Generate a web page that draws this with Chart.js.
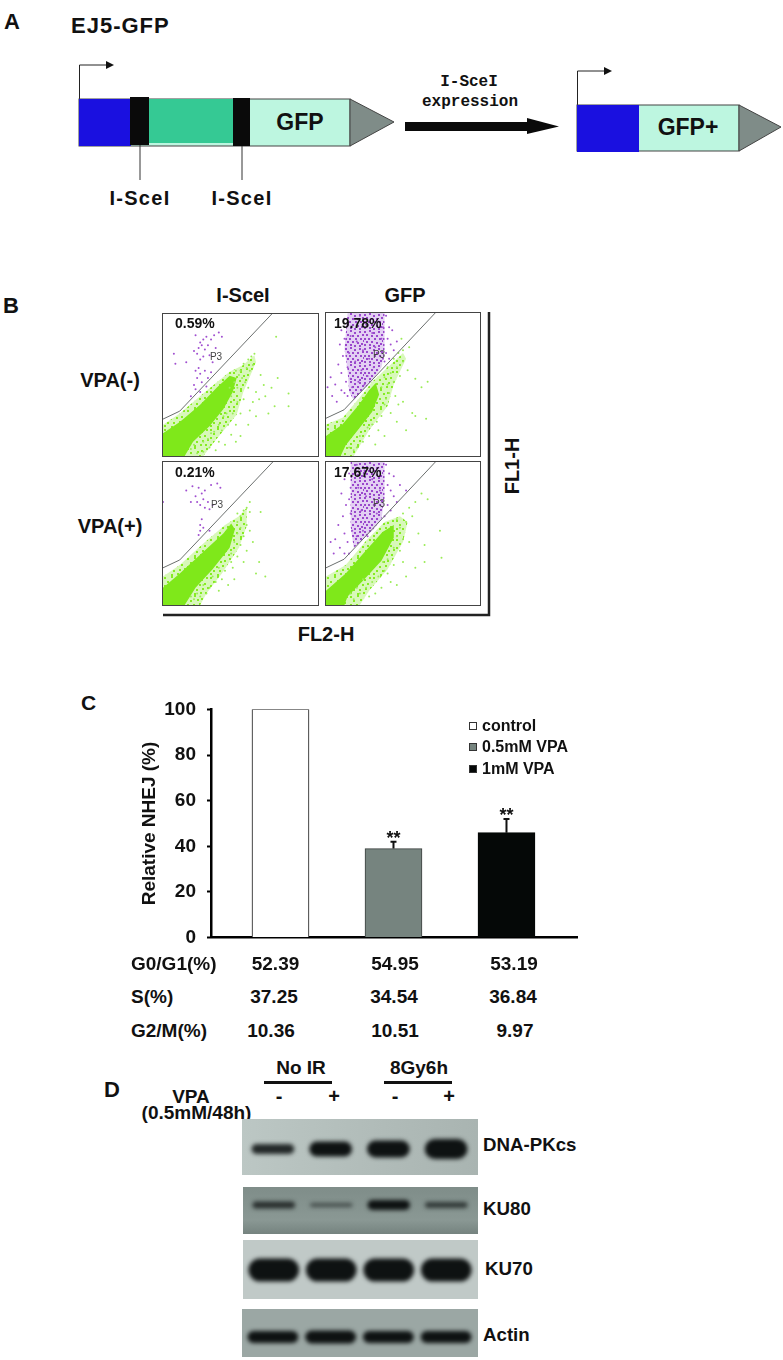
<!DOCTYPE html>
<html>
<head>
<meta charset="utf-8">
<script src="https://cdn.jsdelivr.net/npm/chart.js@4"></script>
<style>
  body { margin: 0; background: #fff; font-family: "Liberation Sans", Arial, sans-serif; color: #111; }
  #fig { position: relative; width: 783px; height: 1360px; overflow: hidden; }
  .t { position: absolute; font-weight: bold; white-space: nowrap; transform: translate(-50%, -50%); }
  .l { position: absolute; font-weight: bold; white-space: nowrap; transform: translateY(-50%); }
  .plot { position: absolute; border: 1px solid #444; box-sizing: border-box; background: #fff; }
  .plot canvas, .blot canvas, #barChart { display: block; }
  .blot { position: absolute; overflow: hidden; }
  .blot canvas { filter: blur(2px); }
  #barChart { position: absolute; left: 120px; top: 687px; }
  svg { position: absolute; left: 0; top: 0; }
</style>
</head>
<body>
<div id="fig">
  <svg width="783" height="650">
    <!-- panel A construct -->
    <path d="M79.5 99V65H108M577.5 105V71H606" fill="none" stroke="#222" stroke-width="1"/>
    <path d="M106 61L114 65L106 69ZM604 67L612 71L604 75Z" fill="#111"/>
    <rect x="79" y="99" width="271" height="47" fill="#bdf6e0" stroke="#444"/>
    <rect x="79" y="99" width="52" height="47" fill="#1a10e0"/>
    <rect x="149" y="99" width="84" height="44" fill="#35c994"/>
    <rect x="130" y="97" width="19" height="48" fill="#0a0a0a"/>
    <rect x="233" y="98" width="17" height="48" fill="#0a0a0a"/>
    <path d="M350 99L394 122L350 146Z" fill="#7f8c88" stroke="#444"/>
    <path d="M140 145V180M242 146V180" stroke="#333"/>
    <rect x="405" y="122" width="122" height="9" fill="#0a0a0a"/>
    <path d="M527 118L559 126.5L527 134Z" fill="#0a0a0a"/>
    <rect x="577" y="105" width="162" height="46" fill="#bdf6e0" stroke="#444"/>
    <rect x="577" y="105" width="62" height="47" fill="#1a10e0"/>
    <path d="M739 105L781 127L739 151Z" fill="#7f8c88" stroke="#444"/>
    <!-- panel B frame -->
    <path d="M489 312V615H163" fill="none" stroke="#222" stroke-width="2.5"/>
  </svg>
  <canvas id="barChart" width="463" height="273"></canvas>
</div>

<script>
// panel C
const categories = ['control', '0.5mM VPA', '1mM VPA'];
const relativeNhej = [100, 39, 46];
const nhejErrorTop = [null, 42, 52];
const nhejStars = ['', '**', '**'];
const yTicks = [0, 20, 40, 60, 80, 100];
const g0g1 = ['52.39', '54.95', '53.19'];
const sPhase = ['37.25', '34.54', '36.84'];
const g2m = ['10.36', '10.51', '9.97'];

// panel B, percent of the plot box
const gateTL = [[0,26],[10.8,31.6],[70.2,100]];
const gateTR = [[0,26.4],[11.7,32.3],[70.9,100]];
const gateBL = [[0,26],[10.8,31.5],[70.8,100]];
const gateBR = [[0,26],[11.7,32],[71,100]];
const coreTL = [[0,0],[0,16],[10.8,24],[23.8,36],[34.6,48],[43,56.6],[47.5,55],[45,45],[38.9,33],[30,21],[19.4,10],[14,0]];
const coreTR = [[0,0],[0,14],[10.6,22],[21.5,36],[28,46],[32.3,51],[34.5,43],[30,31],[21.5,19.3],[12.8,7.5],[9.5,0]];
const coreBL = [[0,0],[0,12],[10.8,22],[25.9,37],[38.9,50],[44,57],[46.4,53],[43,40],[32,25],[21,12],[14,0]];
const coreBR = [[0,0],[0,10],[12.8,22],[25.8,38],[36.7,51],[44,56],[44,47],[36,31],[24,17],[14,6],[12,0]];
const fringeTL = [[0,0],[0,22],[10.8,30],[25.9,44],[43,59.4],[51.8,64],[59,71],[60,66],[51.8,45],[47.5,29],[34.6,12],[26,0]];
const fringeTR = [[0,0],[0,22],[11,27],[22,41],[30,52],[38,60],[50,72],[52,68],[44,50],[40,35],[28,18],[18,0]];
const fringeBL = [[0,0],[0,20],[10.8,28],[26,43],[40,56],[49,62],[54,68],[54,55],[49,40],[38,22],[28,8],[24,0]];
const fringeBR = [[0,0],[0,20],[12.8,28],[26,45],[38,58],[48,62],[53,58],[50,44],[40,25],[28,10],[22,0]];
const denseTR = [[14,100],[38,100],[38,72],[36,62],[30,53],[24,46],[18,39],[15,45],[14,60],[12,75]];
const denseBR = [[16,100],[38,100],[38,75],[36,60],[30,52],[24,46],[18,40],[16,55]];
const greenTL = [[50,60],[52,65],[55,68],[57,70],[59,72],[54,62],[49,57],[47,60],[51,55],[56,60],[58,64],[53,52],[48,48],[55,48],[60,45],[62,40],[65,50],[66,42],[70,48],[72,35],[68,30],[58,38],[52,40],[56,32],[60,28],[50,30],[48,38],[45,30],[42,22],[47,22],[38,18],[44,15],[36,10],[40,8],[30,6],[34,4],[26,3],[22,2],[47,10],[74,55],[81,44],[81,35],[73,84],[63,57],[55,22],[50,14],[29,12],[33,17],[39,28],[44,42],[46,52],[43,48],[18,5],[20,8],[26,10],[31,16],[36,22],[41,30]];
const greenTR = [[40,62],[44,68],[47,72],[50,74],[54,76],[42,58],[46,62],[50,66],[38,55],[36,48],[40,50],[44,52],[48,56],[53,60],[58,54],[62,48],[66,52],[45,42],[50,38],[38,36],[42,30],[36,28],[30,22],[34,18],[28,14],[24,10],[20,6],[32,8],[38,14],[46,24],[52,18],[56,30],[47,36],[41,44],[58,28],[65,26],[49,82],[18,4],[15,6],[22,14],[27,20],[33,24],[39,40]];
const greenBL = [[48,58],[50,62],[52,66],[54,68],[56,65],[50,54],[54,56],[48,50],[52,48],[46,44],[50,42],[56,52],[44,36],[48,34],[54,38],[58,44],[62,30],[45,26],[40,24],[38,18],[34,16],[30,12],[36,10],[28,8],[24,6],[20,4],[42,14],[60,22],[63,65],[56,72],[48,64],[44,30],[36,26],[32,20],[26,14],[22,8],[18,6],[52,30],[46,18],[66,20]];
const greenBR = [[46,60],[50,64],[54,68],[58,72],[62,78],[66,74],[48,54],[52,58],[56,62],[46,48],[50,46],[44,40],[48,38],[54,44],[60,50],[64,42],[74,52],[40,32],[44,28],[50,30],[38,24],[34,20],[30,16],[26,12],[36,12],[42,16],[22,8],[18,4],[28,6],[32,8],[46,14],[52,20],[58,26],[64,30],[75,33],[40,22],[37,30],[24,18],[16,8],[20,12]];
const purpleTL = [[21,85],[24,80],[26,82],[23,76],[25,78],[27,75],[29,78],[31,82],[33,85],[36,87],[38,84],[28,84],[20,74],[22,72],[26,70],[24,68],[7,72],[8,65],[15,66],[30,71],[21,60],[24,58],[27,60],[29,55],[31,59],[22,55],[25,52],[28,49],[21,47],[24,45],[18,42],[20,50],[32,66],[34,76],[23,62]];
const purpleTR = [[12,96],[10,88],[9,78],[12,82],[11,70],[8,64],[10,58],[13,52],[6,50],[4,42],[7,38],[3,55],[1,48],[12,44],[14,42],[10,46],[39,98],[41,90],[40,82],[42,78],[44,74],[39,72],[38,66],[41,68],[46,80],[43,88],[14,92],[16,84],[15,72],[14,62],[16,54],[17,48],[37,90],[36,82],[37,68],[22,98],[26,92],[30,86],[34,94],[20,80],[24,74],[28,68],[32,76],[19,66],[23,60],[27,56],[31,62],[21,52],[25,50],[35,70]];
const purpleBL = [[23,82],[25,78],[21,76],[27,80],[26,74],[29,72],[24,70],[22,72],[31,84],[35,85],[37,82],[19,83],[15,80],[18,72],[30,67],[27,68],[25,60],[24,56],[26,54],[24,52],[23,49],[0,72],[30,52],[32,70]];
const purpleBR = [[14,96],[12,88],[10,78],[13,70],[11,62],[8,56],[12,50],[6,46],[3,44],[9,40],[14,44],[15,36],[12,36],[5,36],[39,98],[41,92],[40,84],[42,80],[44,76],[46,72],[40,70],[42,66],[38,62],[48,84],[44,90],[52,80],[15,92],[16,82],[15,74],[16,64],[17,52],[20,98],[25,94],[30,88],[34,96],[21,82],[26,76],[31,70],[35,80],[19,62],[23,66],[28,58],[33,64],[20,48],[24,52],[27,48]];

const plotTexts = ['0.59%', '19.78%', '0.21%', '17.67%'];

// panel D, band thickness
const lanes = ['No IR -', 'No IR +', '8Gy6h -', '8Gy6h +'];
const dnaPkcs = [10, 15, 17, 20];
const ku80 = [7, 4, 10, 6];
const ku70 = [23, 23, 23, 23];
const actin = [12, 13, 12, 12];

const fig = document.getElementById('fig');

function addText(cls, x, y, size, str, extra) {
  const d = document.createElement('div');
  d.className = cls;
  d.textContent = str;
  d.style.left = x + 'px';
  d.style.top = y + 'px';
  d.style.fontSize = size + 'px';
  if (extra) Object.assign(d.style, extra);
  fig.appendChild(d);
  return d;
}
const pts = a => a.map(([x, y]) => ({ x, y }));

// stipple fills so the clouds do not look like flat shapes
function stipple(w, h, wash, dot, dots) {
  const c = document.createElement('canvas');
  c.width = w;
  c.height = h;
  const g = c.getContext('2d');
  g.fillStyle = wash;
  g.fillRect(0, 0, w, h);
  g.fillStyle = dot;
  dots.forEach(([x, y]) => g.fillRect(x, y, 2, 2));
  return g.createPattern(c, 'repeat');
}
const greenDots = stipple(23, 19, 'rgba(127,232,26,.3)', '#86ec22', [[1,1],[8,0],[15,3],[20,1],[4,5],[11,4],[18,7],[1,9],[7,9],[13,8],[21,11],[4,13],[10,13],[16,12],[1,16],[8,17],[14,16],[19,16]]);
const purpleDots = stipple(19, 17, 'rgba(175,120,220,.35)', '#9a48cc', [[0,1],[5,0],[9,2],[14,1],[17,4],[2,4],[7,5],[12,5],[0,8],[4,8],[10,8],[15,8],[18,10],[2,11],[7,11],[12,12],[16,13],[0,14],[5,14],[9,15],[14,15]]);

// ---- panel A + B labels
addText('l', 4, 22, 22, 'A');
addText('l', 71, 26, 22, 'EJ5-GFP', { letterSpacing: '1px' });
addText('t', 140, 198, 20, 'I-SceI', { letterSpacing: '1.3px' });
addText('t', 242, 198, 20, 'I-SceI', { letterSpacing: '1.3px' });
addText('t', 300, 122, 23, 'GFP');
addText('t', 688, 127, 23, 'GFP+');
addText('t', 469, 82, 16, 'I-SceI', { fontFamily: '"Liberation Mono", monospace' });
addText('t', 470, 102, 16, 'expression', { fontFamily: '"Liberation Mono", monospace' });

addText('l', 3, 306, 22, 'B');
addText('t', 243, 295, 20, 'I-SceI');
addText('t', 405, 295, 20, 'GFP');
addText('t', 110, 380, 20, 'VPA(-)');
addText('t', 110, 526, 20, 'VPA(+)');
addText('t', 326, 634, 20, 'FL2-H');
addText('t', 512, 466, 20, 'FL1-H', { transform: 'translate(-50%,-50%) rotate(-90deg)' });

// ---- panel B scatter plots
const plots = [
  { x: 162, y: 313, w: 157, h: 144, gate: gateTL, core: coreTL, fringe: fringeTL, green: greenTL, purple: purpleTL },
  { x: 325, y: 312, w: 156, h: 145, gate: gateTR, core: coreTR, fringe: fringeTR, green: greenTR, purple: purpleTR, dense: denseTR },
  { x: 162, y: 461, w: 157, h: 145, gate: gateBL, core: coreBL, fringe: fringeBL, green: greenBL, purple: purpleBL },
  { x: 325, y: 461, w: 156, h: 145, gate: gateBR, core: coreBR, fringe: fringeBR, green: greenBR, purple: purpleBR, dense: denseBR }
];
const p3Pos = [[216, 356], [379, 354], [217, 504], [379, 503]];
const pctPos = [[175, 323], [334, 323], [175, 472], [334, 472]];

plots.forEach((p, i) => {
  const box = document.createElement('div');
  box.className = 'plot';
  Object.assign(box.style, { left: p.x + 'px', top: p.y + 'px', width: p.w + 'px', height: p.h + 'px' });
  const c = document.createElement('canvas');
  c.width = p.w - 2;
  c.height = p.h - 2;
  box.appendChild(c);
  fig.appendChild(box);

  const shape = (data, fillStyle) => ({ data: pts(data), showLine: true, fill: 'shape', backgroundColor: fillStyle, borderWidth: 0, pointRadius: 0, tension: 0 });
  const datasets = [
    { data: pts(p.gate), showLine: true, borderColor: '#6b6f6e', borderWidth: 1, pointRadius: 0, tension: 0 },
    { data: pts(p.purple), backgroundColor: '#a04fd0', pointRadius: 1, borderWidth: 0 },
    { data: pts(p.green), backgroundColor: '#9aec55', pointRadius: 1, borderWidth: 0 },
    shape(p.core, '#7fe81a'),
    shape(p.fringe, greenDots)
  ];
  if (p.dense) datasets.push(shape(p.dense, purpleDots));
  new Chart(c, {
    type: 'scatter',
    data: { datasets },
    options: {
      responsive: false,
      animation: false,
      layout: { autoPadding: false },
      plugins: { legend: { display: false }, tooltip: { enabled: false } },
      scales: {
        x: { display: false, min: 0, max: 100 },
        y: { display: false, min: 0, max: 100 }
      }
    }
  });
  addText('l', pctPos[i][0], pctPos[i][1], 14, plotTexts[i], { zIndex: 3, color: '#111' });
  addText('t', p3Pos[i][0], p3Pos[i][1], 10, 'P3', { zIndex: 3, color: '#444', fontWeight: 'normal' });
});

// ---- panel C
const barColors = ['#ffffff', '#76847f', '#050807'];
const barBorders = ['#111111', '#3a3f3d', '#050807'];

const errorBars = {
  id: 'errorBars',
  afterDatasetsDraw(chart) {
    const { ctx, scales: { x, y } } = chart;
    ctx.save();
    nhejErrorTop.forEach((top, i) => {
      if (top === null) return;
      const px = x.getPixelForValue(i + 1);
      ctx.strokeStyle = '#111';
      ctx.lineWidth = 2;
      ctx.beginPath();
      ctx.moveTo(px, y.getPixelForValue(relativeNhej[i]));
      ctx.lineTo(px, y.getPixelForValue(top));
      ctx.moveTo(px - 3, y.getPixelForValue(top));
      ctx.lineTo(px + 3, y.getPixelForValue(top));
      ctx.stroke();
      ctx.fillStyle = '#111';
      ctx.font = 'bold 18px "Liberation Sans"';
      ctx.textAlign = 'center';
      ctx.textBaseline = 'middle';
      ctx.fillText(nhejStars[i], px, y.getPixelForValue(top) - 3);
    });
    ctx.restore();
  }
};

new Chart(document.getElementById('barChart'), {
  type: 'bar',
  data: {
    datasets: [{
      data: relativeNhej.map((v, i) => ({ x: i + 1, y: v })),
      backgroundColor: barColors,
      borderColor: barBorders,
      borderWidth: 1,
      barThickness: 57
    }]
  },
  options: {
    responsive: false,
    animation: false,
    layout: { padding: { right: 6 } },
    plugins: { legend: { display: false }, tooltip: { enabled: false } },
    scales: {
      x: {
        type: 'linear', min: 0.385, max: 3.624, offset: false,
        grid: { display: false },
        ticks: { display: false },
        border: { color: '#000', width: 2.5 },
        afterFit: s => { s.height = 0; }
      },
      y: {
        min: 0, max: 100,
        afterFit: s => { s.width = 91; },
        afterBuildTicks: s => { s.ticks = yTicks.map(value => ({ value })); },
        grid: { drawOnChartArea: false, tickLength: 4, tickColor: '#000', tickWidth: 2 },
        border: { color: '#000', width: 2.5 },
        ticks: { color: '#111', padding: 11, font: { family: 'Liberation Sans', weight: 'bold', size: 19 } },
        title: { display: true, text: 'Relative NHEJ (%)', color: '#111', padding: { top: 18, bottom: 0 }, font: { family: 'Liberation Sans', weight: 'bold', size: 19 } }
      }
    }
  },
  plugins: [errorBars]
});

addText('l', 81, 703, 21, 'C');
const legendY = [726, 747, 769];
categories.forEach((name, i) => {
  const s = document.createElement('div');
  Object.assign(s.style, { position: 'absolute', left: '469px', top: (legendY[i] - 4) + 'px', width: '8px', height: '8px', boxSizing: 'border-box', background: barColors[i], border: '1px solid #333' });
  fig.appendChild(s);
  addText('l', 482, legendY[i], 16, name);
});

const rowLabels = ['G0/G1(%)', 'S(%)', 'G2/M(%)'];
const rowY = [964, 997, 1031];
const colX = [[275.5, 395, 514], [274, 394, 513], [271, 395, 515]];
[g0g1, sPhase, g2m].forEach((row, r) => {
  addText('l', 131, rowY[r], 19, rowLabels[r]);
  row.forEach((v, c) => addText('t', colX[r][c], rowY[r], 19, v));
});

// ---- panel D
addText('l', 104, 1090, 22, 'D');
addText('t', 301, 1068, 19, 'No IR');
addText('t', 419, 1068, 19, '8Gy6h');
addText('t', 191, 1097, 19, 'VPA');
addText('t', 196.5, 1113, 19, '(0.5mM/48h)');
[[264, 68], [384, 68]].forEach(([x, w]) => {
  const d = document.createElement('div');
  Object.assign(d.style, { position: 'absolute', left: x + 'px', top: '1081px', width: w + 'px', height: '2.5px', background: '#111' });
  fig.appendChild(d);
});
[[279, '-'], [334, '+'], [395, '-'], [449, '+']].forEach(([x, s]) => addText('t', x, 1096, 20, s));

const blots = [
  { values: dnaPkcs, name: 'DNA-PKcs', nameX: 483, nameY: 1145, x: 242, y: 1119, w: 236, h: 56, mid: 30, full: 12, bg: 'linear-gradient(90deg,#bcc7c4,#b0bbb8 60%,#a9b4b1)', barPct: 0.74 },
  { values: ku80, name: 'KU80', nameX: 483, nameY: 1209, x: 243, y: 1187, w: 235, h: 47, mid: 18, full: 10, bg: 'linear-gradient(180deg,#7f8d89,#8a9894 70%,#75837f)', barPct: 0.74 },
  { values: ku70, name: 'KU70', nameX: 485, nameY: 1269, x: 243, y: 1240, w: 235, h: 59, mid: 30, full: 10, bg: '#c0c9c7', barPct: 0.88 },
  { values: actin, name: 'Actin', nameX: 483, nameY: 1335, x: 242, y: 1309, w: 236, h: 48, mid: 28, full: 10, bg: '#9ba7a4', barPct: 0.88 }
];

blots.forEach(b => {
  const box = document.createElement('div');
  box.className = 'blot';
  Object.assign(box.style, { left: b.x + 'px', top: b.y + 'px', width: b.w + 'px', height: b.h + 'px', background: b.bg });
  const c = document.createElement('canvas');
  c.width = b.w;
  c.height = b.h;
  box.appendChild(c);
  fig.appendChild(box);
  new Chart(c, {
    type: 'bar',
    data: {
      labels: lanes,
      datasets: [{
        data: b.values.map(v => [b.h - b.mid - v / 2, b.h - b.mid + v / 2]),
        backgroundColor: b.values.map(v => `rgba(14,18,18,${Math.min(1, 0.25 + v / b.full * 0.75)})`),
        borderSkipped: false,
        borderRadius: 30,
        barPercentage: b.barPct,
        categoryPercentage: 1
      }]
    },
    options: {
      responsive: false,
      animation: false,
      layout: { padding: { left: 2, right: 3 } },
      plugins: { legend: { display: false }, tooltip: { enabled: false } },
      scales: {
        x: { display: false },
        y: { display: false, min: 0, max: b.h }
      }
    }
  });
  addText('l', b.nameX, b.nameY, 18.7, b.name);
});
</script>
</body>
</html>
